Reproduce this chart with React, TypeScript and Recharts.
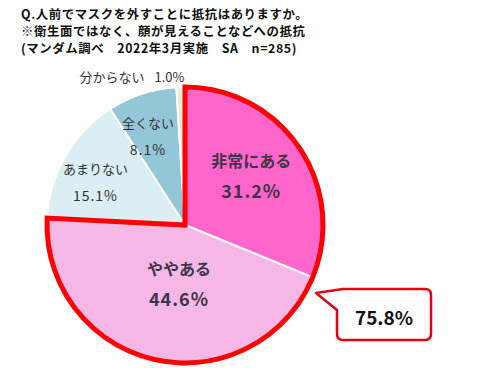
import { PieChart, Pie, Cell } from 'recharts';

const categories = ['非常にある', 'ややある', 'あまりない', '全くない', '分からない'];
const percents = [31.2, 44.6, 15.1, 8.1, 1.0];
const titleLines = [
  'Q.人前でマスクを外すことに抵抗はありますか。',
  '※衛生面ではなく、顔が見えることなどへの抵抗',
  '(マンダム調べ　2022年3月実施　SA　n=285)',
];

// 見た目の設定（色・ラベル位置）
const fills = ['#FF66CC', '#F5B8E6', '#DAEEF3', '#93C6D6', '#E4EDCF'];
const labelRadius = [83, 58, 99.5, 96.5, 158];
const labelAngleShift = [3.3, 6.7, 4.2, 4.4, 17.8];
const boldLabel = [true, true, false, false, false];

const data = categories.map((name, i) => ({ name, value: percents[i] }));
const groupTotal = Math.round((percents[0] + percents[1]) * 10) / 10;
const groupData = [
  { name: 'group', value: groupTotal },
  { name: 'rest', value: Math.round((100 - groupTotal) * 10) / 10 },
];

const RAD = Math.PI / 180;
const CX = 185;
const CY = 225;
const R = 138;

const renderLabel = (props: any) => {
  const { cx, cy, midAngle, index } = props;
  const a = (midAngle + labelAngleShift[index]) * RAD;
  const x = cx + labelRadius[index] * Math.cos(a);
  const y = cy - labelRadius[index] * Math.sin(a);
  const bold = boldLabel[index];
  const name = categories[index];
  const pct = `${percents[index].toFixed(1)}%`;
  if (index === 4) {
    return (
      <text x={x} y={y} textAnchor="middle" dominantBaseline="central" fill="#333" fontSize={13}>
        {name}
        <tspan dx={10}>{pct}</tspan>
      </text>
    );
  }
  const gap = bold ? 15 : 13.5;
  return (
    <g>
      <text
        x={x}
        y={y - gap}
        textAnchor="middle"
        dominantBaseline="central"
        fill={bold ? '#3b3548' : '#333'}
        fontSize={bold ? 16 : 13}
        fontWeight={bold ? 700 : 400}
      >
        {name}
      </text>
      <text
        x={x}
        y={y + gap}
        textAnchor="middle"
        dominantBaseline="central"
        fill={bold ? '#3b3548' : '#333'}
        fontSize={bold ? 18 : 14}
        fontWeight={bold ? 700 : 400}
        letterSpacing={1}
      >
        {pct}
      </text>
    </g>
  );
};

export default function App() {
  return (
    <div
      style={{
        position: 'fixed',
        left: 0,
        top: 0,
        width: 500,
        height: 392,
        background: '#fff',
        fontFamily: '"Noto Sans CJK JP", "Noto Sans", sans-serif',
      }}
    >
      <PieChart
        width={500}
        height={392}
        margin={{ top: 0, right: 0, bottom: 0, left: 0 }}
        style={{ position: 'absolute', left: 0, top: 0 }}
      >
        {titleLines.map((t, i) => (
          <text
            key={t}
            x={21}
            y={14 + i * 17}
            dominantBaseline="central"
            fontSize={12.4}
            letterSpacing={0.6}
            fontWeight={700}
            fill="#111"
            style={{ whiteSpace: 'pre' }}
          >
            {t}
          </text>
        ))}
        <Pie
          data={data}
          dataKey="value"
          cx={CX}
          cy={CY}
          outerRadius={R}
          startAngle={90}
          endAngle={-270}
          stroke="#fff"
          strokeWidth={2}
          label={renderLabel}
          labelLine={false}
          isAnimationActive={false}
        >
          {data.map((d, i) => (
            <Cell key={d.name} fill={fills[i]} />
          ))}
        </Pie>
        <Pie
          data={groupData}
          dataKey="value"
          cx={CX}
          cy={CY}
          outerRadius={R}
          startAngle={90}
          endAngle={-270}
          isAnimationActive={false}
        >
          <Cell fill="none" stroke="#FF0000" strokeWidth={5} strokeLinejoin="miter" />
          <Cell fill="none" stroke="none" />
        </Pie>
      </PieChart>
      <svg width={500} height={392} style={{ position: 'absolute', left: 0, top: 0, pointerEvents: 'none' }}>
        <path
          d="M343,289 H425 Q431,289 431,295 V334 Q431,340 425,340 H343 Q337,340 337,334 V310 L316,293 Z"
          fill="#fff"
          stroke="#E60012"
          strokeWidth={2.5}
          strokeLinejoin="round"
        />
        <text x={384} y={316} textAnchor="middle" dominantBaseline="central" fontSize={19} fontWeight={700} fill="#111">
          {`${groupTotal.toFixed(1)}%`}
        </text>
      </svg>
    </div>
  );
}
